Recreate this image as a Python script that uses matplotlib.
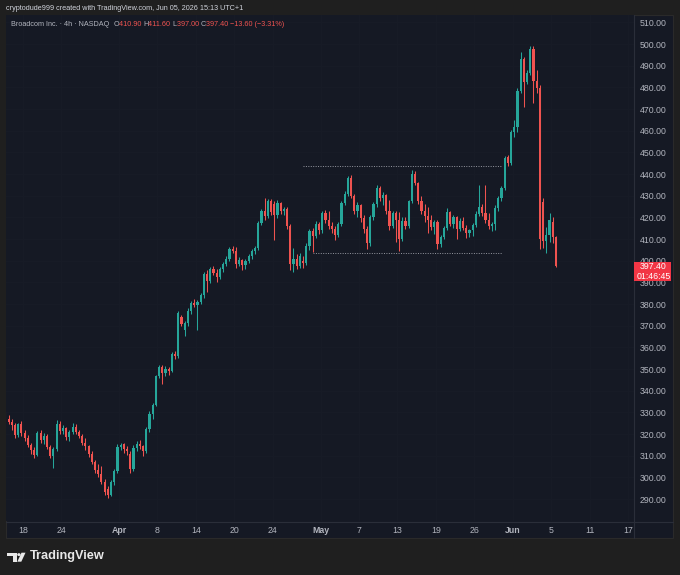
import numpy as np
import pandas as pd
import matplotlib
matplotlib.use("Agg")
import matplotlib.pyplot as plt
from matplotlib.patches import Rectangle, Polygon, Circle
from matplotlib.lines import Line2D

# ---------------- data ----------------
holidays = ["2026-04-03", "2026-05-25"]
bars_per_day = 3

opens = [
    329, 327, 325.5,  324, 319.5, 324.5,  320.5, 318, 315,  312.5, 310.5, 320.5,
    317.5, 319, 314,  310, 313, 324.5,  321.5, 323, 318.5,  321, 323.5, 321,
    319, 316, 314.5,  311, 307, 303.5,  301.5, 298, 294.5,  292, 298, 303,
    314, 315.5, 313,  311, 304, 313.5,  315.5, 314.5, 312,  322.5, 329.5, 333.5,
    347, 351, 348,  350, 349, 357,  356, 374, 368,  371.5, 377, 380.5,
    379.5, 381, 384,  394, 390.5, 396,  394.5, 392.5, 396,  398.5, 401, 405.5,
    404.5, 398.5, 400.5,  398, 400, 402,  404.5, 406, 417.5,  423, 420.5, 427.5,
    426, 421, 426.5,  423, 424, 416,  398.5, 401, 397.5,  400, 399, 407,
    413.5, 411.5, 417,  414, 422, 419,  416, 414.5, 412,  417, 426.5, 431,
    438, 430, 423,  425.5, 419.5, 414.5,  408, 420, 426,  433.5, 429, 430.5,
    423, 416, 422,  419, 410, 418.5,  416, 427.5, 440,  436, 427.5, 423,
    420.5, 419, 415.5,  418, 407.5, 411,  415, 422.5, 417,  420, 414.5, 418.5,
    415, 413, 414,  416.5, 421.5, 425,  422, 419, 416,  417, 424.5, 429,
    433.5, 448, 445,  459.5, 461.5, 478.5,  493, 482.5, 486.5,  497.5, 483, 479.5,
    427, 409, 412,  418, 410.90,
]
highs = [
    330, 329, 327,  325, 325, 326,  322, 319.5, 316,  314, 321.5, 322,
    320.5, 320, 315,  314, 326.5, 326,  324, 323.5, 322,  325, 324.5, 322,
    320, 318, 315,  312, 308, 306,  305.5, 299.5, 296,  299, 304, 315.5,
    316, 316, 314.5,  312, 315, 317,  317.5, 315, 323.5,  330.5, 334.5, 347.5,
    352, 352, 351.5,  351, 358, 358.5,  377, 375, 372,  378, 381.5, 382.5,
    382, 385, 395,  395.5, 397, 397.5,  396, 397, 399.5,  402, 406.5, 407,
    406.5, 401.5, 401,  401, 403, 405.5,  407, 418.5, 424,  429, 428.5, 428.5,
    427.5, 428, 427,  425, 425, 417,  406, 403, 403.5,  402, 408, 414.5,
    415, 418.5, 418,  423, 423.5, 423,  418, 416, 418,  427.5, 432, 439,
    439.5, 431, 427,  426, 421, 416,  421, 427, 435,  434.5, 431.5, 431,
    428, 423, 423,  422.5, 420, 420,  428, 442, 441.5,  436.5, 430, 426,
    425, 421, 419,  419, 412, 416,  424.5, 423, 421,  420.5, 419.5, 420,
    416.5, 414.5, 417.5,  423, 435, 426,  435, 422, 418,  425.5, 430, 434.5,
    448.5, 449, 460.5,  465, 479.5, 496.5,  494, 488, 499,  499, 488, 481,
    429, 415.5, 422,  420, 411.60,
]
lows = [
    326, 324.5, 322,  318, 318.5, 319,  317, 314, 311,  309, 310, 316,
    315.5, 313, 309,  304.5, 312, 320,  320, 317.5, 317,  320, 320, 318,
    315, 312.5, 309.5,  306, 302, 300,  297, 292, 290.5,  291.5, 296.5, 302,
    312.5, 311.5, 310.5,  302, 303, 312,  313, 310, 311.5,  321, 327, 333,
    346, 343, 347,  347.5, 348.5, 354.5,  355, 370, 365.5,  370, 375.5, 378.5,
    368, 380, 383,  385.5, 389.5, 393.5,  390, 391.5, 395,  397.5, 400, 403.5,
    396.5, 397.5, 395.5,  396, 399, 401,  403, 405, 416.5,  419, 419.5, 421,
    409.5, 419.5, 421.5,  421, 414.5, 395.5,  395, 396, 396.5,  396.5, 398, 405,
    404, 410.5, 412.5,  413, 417.5, 414.5,  413, 409.5, 411,  416, 425.5, 430,
    429, 421.5, 420,  418, 413, 405.5,  407, 419, 425,  427.5, 425.5, 421.5,
    414, 415, 408.5,  404.5, 409, 414.5,  415, 426.5, 435,  426, 421.5, 418,
    413, 414, 412.5,  405.5, 406.5, 410,  414, 416, 415,  410, 413.5, 414,
    410.5, 411, 411.5,  415.5, 420.5, 420.5,  417.5, 414.5, 413.5,  414, 423, 427.5,
    432.5, 443.5, 444,  457, 459.5, 477.5,  471, 481.5, 485.5,  473, 477.5, 405.5,
    406, 403.5, 408.5,  408, 397.00,
]
closes = [
    327, 325.5, 324,  319.5, 324.5, 320.5,  318, 315, 312.5,  310.5, 320.5, 317.5,
    319, 314, 310,  313, 324.5, 321.5,  323, 318.5, 321,  323.5, 321, 319,
    316, 314.5, 311,  307, 303.5, 301.5,  298, 293.5, 292,  298, 303, 314,
    315, 313, 312,  304, 313.5, 315.5,  314.5, 312, 322.5,  329.5, 333.5, 347,
    351, 348, 350,  349, 357, 356,  376, 371, 371.5,  377, 380.5, 379.5,
    381, 384, 394,  390.5, 396, 394.5,  392.5, 396, 398.5,  401, 405.5, 404.5,
    398.5, 400.5, 398,  400, 402, 404.5,  406, 417.5, 423,  420.5, 427.5, 422.5,
    421, 426.5, 423,  424, 416, 398.5,  401, 397.5, 402,  399, 407, 413.5,
    411.5, 417, 414,  422, 419, 416,  414.5, 412, 417,  426.5, 431, 438,
    430, 423, 425.5,  419.5, 414.5, 408,  420, 426, 433.5,  429, 430.5, 423,
    416, 422, 419,  410, 418.5, 416,  427.5, 440, 436,  427.5, 423, 420.5,
    419, 415.5, 418,  407.5, 411, 415,  422.5, 417, 420,  414.5, 418.5, 415,
    413, 414, 416.5,  421.5, 425, 422,  419, 416, 417,  424.5, 429, 433.5,
    447.5, 445, 459.5,  461.5, 478.5, 493,  482.5, 486.5, 497.5,  483, 479.5, 410,
    409, 412, 419,  410.90, 397.40,
]

# horizontal range levels drawn on the chart
level_prices = [443.8, 403.4]
level_starts = ["2026-04-29", "2026-04-30"]
level_ends = ["2026-05-28", "2026-05-28"]

tick_dates = ["2026-03-18", "2026-03-24", "2026-04-01", "2026-04-08", "2026-04-14",
              "2026-04-20", "2026-04-24", "2026-05-01", "2026-05-07", "2026-05-13",
              "2026-05-19", "2026-05-26", "2026-06-01", "2026-06-05", "2026-06-11",
              "2026-06-17"]
tick_labels = ["18", "24", "Apr", "8", "14", "20", "24", "May", "7", "13", "19",
               "26", "Jun", "5", "11", "17"]
month_labels = {"Apr", "May", "Jun"}
price_ticks = [290, 300, 310, 320, 330, 340, 350, 360, 370, 380, 390, 400,
               410, 420, 430, 440, 450, 460, 470, 480, 490, 500, 510]

last_price = 397.40
countdown = "01:46:45"
header = "cryptodude999 created with TradingView.com, Jun 05, 2026 15:13 UTC+1"

# ---------------- styling ----------------
W, H = 680, 575
OUTER = "#1f1f1f"
PANEL = "#151924"
GRID = "#181c27"
SEP = "#2a2e39"
TXT = "#b2b5be"
UP = "#26a69a"
DOWN = "#ef5350"
plt.rcParams['font.family'] = ['Liberation Sans', 'DejaVu Sans']

def fx(px):
    return px / W

def fy(py):
    return 1 - py / H

fig = plt.figure(figsize=(W / 100, H / 100), dpi=100, facecolor=OUTER)

# chart panel background
fig.patches.append(Rectangle((fx(6), fy(538)), fx(673) - fx(6), fy(15) - fy(538),
                             transform=fig.transFigure, facecolor=PANEL,
                             edgecolor="#2a2a2a", lw=0.8, zorder=-5))

ax = fig.add_axes([fx(6), fy(521), fx(634) - fx(6), fy(15) - fy(521)])
ax.set_zorder(1)
ax.set_facecolor(PANEL)
for s in ax.spines.values():
    s.set_visible(False)

# bar positions from trading calendar
days = pd.bdate_range("2026-03-16", "2026-06-30", freq="C", holidays=holidays)
day_index = {d.strftime("%Y-%m-%d"): i for i, d in enumerate(days)}
n = len(closes)
xs = np.arange(n)
o = np.array(opens); h = np.array(highs); l = np.array(lows); c = np.array(closes)
up = c >= o
cols = np.where(up, UP, DOWN)

ax.vlines(xs, l, h, colors=cols, lw=0.75, zorder=3)
body_bot = np.minimum(o, c)
body_h = np.maximum(np.abs(c - o), 0.5)
ax.bar(xs, body_h, bottom=body_bot, width=0.68, color=cols, lw=0, zorder=4)

def day_pos(ds):
    return day_index[ds] * bars_per_day - 0.5

for p, s, e in zip(level_prices, level_starts, level_ends):
    ax.plot([day_pos(s) + 0.5, day_pos(e) + 2.7], [p, p], color="#9598a1",
            lw=0.7, ls=(0, (1, 1.5)), zorder=2)

ax.set_xlim(0.19, 196.4)
ax.set_ylim(279.9, 513.4)

ax.set_xticks([day_pos(d) for d in tick_dates])
ax.set_xticklabels(tick_labels)
for t in ax.get_xticklabels():
    if t.get_text() in month_labels:
        t.set_fontweight("bold")
ax.set_yticks(price_ticks)
ax.set_yticklabels([f"{v:.2f}" for v in price_ticks])
ax.yaxis.tick_right()
ax.tick_params(axis="both", length=0, colors=TXT, labelsize=6.3)
ax.tick_params(axis="x", pad=3.6)
ax.tick_params(axis="y", pad=4.3)
ax.grid(True, color=GRID, lw=0.6)
ax.set_axisbelow(True)

# separators
fig.add_artist(Line2D([fx(634), fx(634)], [fy(15), fy(538)], color=SEP, lw=0.8, zorder=2))
fig.add_artist(Line2D([fx(6), fx(673)], [fy(521.5), fy(521.5)], color=SEP, lw=0.8, zorder=2))

# header & legend
FS_HEAD = 5.25
fig.text(fx(6), fy(8), header, color="#d1d4dc", fontsize=FS_HEAD, va="center", ha="left")
legend_parts = [("Broadcom Inc. · 4h · NASDAQ  ", TXT), ("O", TXT), ("410.90 ", DOWN),
                ("H", TXT), ("411.60 ", DOWN), ("L", TXT), ("397.00 ", DOWN),
                ("C", TXT), ("397.40 ", DOWN), ("−13.60 (−3.31%)", DOWN)]
pieces = []
for i, (txt, col) in enumerate(legend_parts):
    pieces.append(fig.text(fx(11), fy(25), txt, color=col, fontsize=FS_HEAD,
                           va="center", ha="left", zorder=5))
fig.canvas.draw()
renderer = fig.canvas.get_renderer()
x_cur = pieces[0].get_window_extent(renderer).x1
for tt in pieces[1:]:
    tt.set_position((x_cur / W, fy(25)))
    x_cur = tt.get_window_extent(renderer).x1

# last price box
ypx = ax.transData.transform((0, last_price))[1]
fig.patches.append(Rectangle((fx(634), (ypx - 14.5) / H), fx(671) - fx(634), 19 / H,
                             transform=fig.transFigure, facecolor="#f23645",
                             lw=0, zorder=5))
fig.text(fx(640), ypx / H, f"{last_price:.2f}", color="white", fontsize=6.3,
         va="center", ha="left", zorder=6)
fig.text(fx(637), (ypx - 9.8) / H, countdown, color="white", fontsize=6.3,
         va="center", ha="left", zorder=6)

# TradingView logo
logo_col = "#e8e8e8"
fig.patches.append(Polygon([(fx(7), fy(552.7)), (fx(16.7), fy(552.7)), (fx(16.7), fy(561.7)),
                            (fx(12.7), fy(561.7)), (fx(12.7), fy(556.3)), (fx(7), fy(556.3))],
                           closed=True, transform=fig.transFigure, facecolor=logo_col, lw=0))
fig.patches.append(Circle((fx(18.9), fy(554.6)), 1.7 / W, transform=fig.transFigure,
                          facecolor=logo_col, lw=0))
fig.patches.append(Polygon([(fx(21.5), fy(552.7)), (fx(25.5), fy(552.7)), (fx(21.3), fy(561.7)),
                            (fx(17.3), fy(561.7))], closed=True, transform=fig.transFigure,
                           facecolor=logo_col, lw=0))
fig.text(fx(29.5), fy(556.5), "TradingView", color=logo_col, fontsize=9.2,
         fontweight="bold", va="center", ha="left")

fig.savefig("out.png", dpi=100, facecolor=OUTER)
